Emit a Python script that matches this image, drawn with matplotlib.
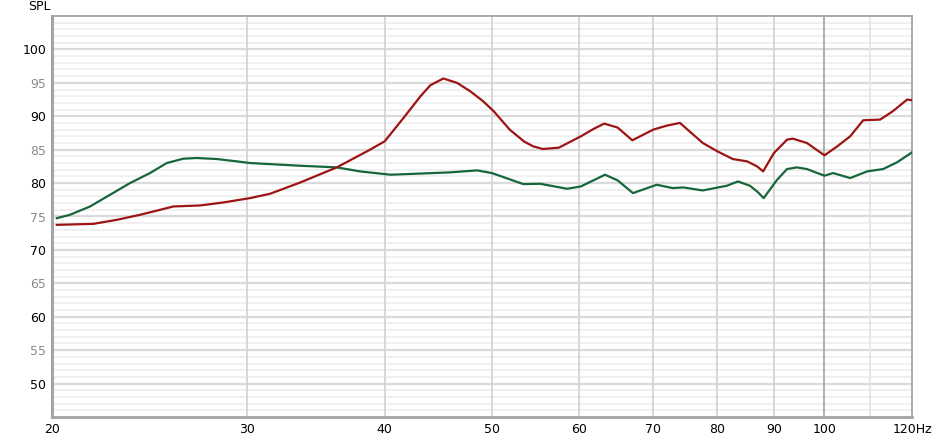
import numpy as np
import matplotlib
matplotlib.use("Agg")
import matplotlib.pyplot as plt
from matplotlib.ticker import FixedLocator, NullFormatter

# 频率 (Hz) 与声压级 (dB SPL)
red_freq = [20.2, 21.8, 22.89, 24.02, 25.05, 25.75, 27.23, 28.58, 30.21, 31.5,
            33.5, 36.2, 38.8, 40.0, 41.6, 43.1, 44.0, 45.2, 46.5, 47.8, 49.1,
            50.2, 51.9, 53.5, 54.5, 55.6, 57.5, 60.2, 61.8, 63.2, 65.0, 67.0,
            70.0, 72.0, 74.0, 77.6, 80.0, 82.6, 85.1, 86.9, 88.0, 90.0, 92.5,
            93.6, 96.4, 100.0, 102.7, 105.5, 108.4, 112.3, 115.3, 118.8, 120.0]
red_spl = [73.75, 73.9, 74.5, 75.25, 76.0, 76.5, 76.65, 77.1, 77.75, 78.4,
           80.05, 82.35, 85.0, 86.25, 89.75, 93.0, 94.65, 95.65, 95.0, 93.75, 92.25,
           90.75, 88.0, 86.2, 85.5, 85.1, 85.3, 87.0, 88.1, 88.9, 88.3, 86.4,
           88.0, 88.6, 89.0, 86.0, 84.75, 83.6, 83.25, 82.5, 81.75, 84.5, 86.5,
           86.65, 86.0, 84.15, 85.5, 87.0, 89.4, 89.5, 90.75, 92.5, 92.4]

green_freq = [20.2, 20.76, 21.65, 22.57, 23.53, 24.53, 25.4, 26.29, 27.04, 28.19,
              29.39, 30.21, 33.5, 36.2, 38.0, 40.5, 45.8, 48.5, 50.0, 53.4, 55.3,
              58.5, 60.2, 63.3, 65.0, 67.1, 70.5, 72.9, 74.5, 77.6, 80.4, 81.6,
              83.5, 85.6, 86.9, 88.1, 90.6, 92.5, 94.4, 96.4, 100.0, 101.8, 105.5,
              109.3, 113.0, 116.3, 120.0]
green_spl = [74.75, 75.25, 76.5, 78.25, 80.0, 81.5, 83.0, 83.65, 83.75, 83.6,
             83.25, 83.0, 82.6, 82.35, 81.75, 81.25, 81.6, 81.9, 81.5, 79.85, 79.9,
             79.15, 79.5, 81.25, 80.4, 78.5, 79.75, 79.25, 79.35, 78.9, 79.4, 79.6,
             80.25, 79.6, 78.75, 77.75, 80.5, 82.1, 82.35, 82.1, 81.1, 81.5, 80.75,
             81.75, 82.1, 83.1, 84.6]

x_ticks = [20, 30, 40, 50, 60, 70, 80, 90, 100, 120]
x_labels = ['20', '30', '40', '50', '60', '70', '80', '90', '100', '120Hz']
y_ticks = [50, 55, 60, 65, 70, 75, 80, 85, 90, 95, 100]

fig = plt.figure(figsize=(9.38, 4.4), dpi=100)
ax = fig.add_axes([52 / 938, 23 / 440, 860 / 938, 401 / 440])

ax.set_xscale('log')
ax.set_xlim(20, 120)
ax.set_ylim(45, 105)

# 横向网格：每 1 dB 一条细线，每 5 dB 一条稍深的线
for v in range(46, 105):
    c = '#dadada' if v % 5 == 0 else '#ededed'
    ax.axhline(v, color=c, lw=1.6 if v % 5 == 0 else 1.2, zorder=0)

# 纵向网格
for f in [30, 40, 50, 60, 70, 80, 90]:
    ax.axvline(f, color='#d4d4d4', lw=1.3, zorder=0)
ax.axvline(100, color='#a9a9a9', lw=1.3, zorder=0)
ax.axvline(110, color='#e6e6e6', lw=1.3, zorder=0)

ax.plot(green_freq, green_spl, color='#17663a', lw=1.6, zorder=3,
        solid_joinstyle='round')
ax.plot(red_freq, red_spl, color='#9c1414', lw=1.6, zorder=3,
        solid_joinstyle='round')

ax.xaxis.set_major_locator(FixedLocator(x_ticks))
ax.xaxis.set_minor_locator(FixedLocator([]))
ax.xaxis.set_minor_formatter(NullFormatter())
ax.set_xticks(x_ticks)
ax.set_xticklabels(x_labels, fontsize=9)
ax.set_yticks(y_ticks)
ax.set_yticklabels([str(v) for v in y_ticks], fontsize=9)
for lab, v in zip(ax.get_yticklabels(), y_ticks):
    lab.set_color('#000000' if v % 10 == 0 else '#8a8a8a')
ax.tick_params(length=0, pad=4)

for s in ax.spines.values():
    s.set_color('#a4a4a4')
    s.set_linewidth(1.3)
ax.spines['left'].set_linewidth(2.2)
ax.spines['bottom'].set_linewidth(2.0)

fig.text(28 / 938, 1 - 7 / 440, 'SPL', fontsize=9, va='center', ha='left')

fig.savefig('out.png', dpi=100)
